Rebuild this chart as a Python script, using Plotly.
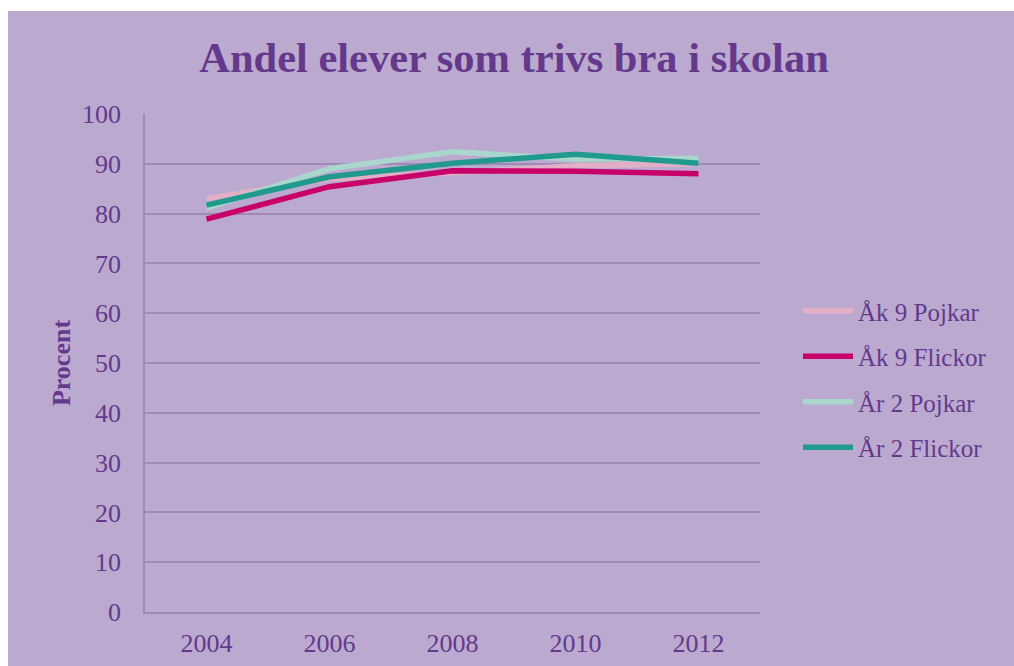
import plotly.graph_objects as go

years = ["2004", "2006", "2008", "2010", "2012"]
ak9_pojkar = [83.0, 87.0, 88.2, 89.6, 90.0]
ak9_flickor = [78.9, 85.4, 88.6, 88.5, 88.0]
ar2_pojkar = [81.1, 89.0, 92.4, 90.9, 91.1]
ar2_flickor = [81.7, 87.4, 90.1, 91.9, 90.1]

series = [
    ("Åk 9 Pojkar", ak9_pojkar, "#E2AFC6"),
    ("Åk 9 Flickor", ak9_flickor, "#C8006A"),
    ("År 2 Pojkar", ar2_pojkar, "#A9D6CD"),
    ("År 2 Flickor", ar2_flickor, "#209A8C"),
]

BG = "#BBA9D0"
TXT = "#64398C"
GRID = "#9F8AB6"
FONT = "Liberation Serif"

fig = go.Figure()
for i, (name, vals, col) in enumerate(series):
    fig.add_trace(go.Scatter(
        x=years, y=vals, name=name, mode="lines",
        line=dict(color=col, width=5.5),
        legendgroup=f"g{i}",
    ))

W, H = 1014, 666
L, R, T, B = 145, 254, 114, 54
pw, ph = W - L - R, H - T - B

def px_to_paper_x(px):
    return (px - L) / pw

def px_to_paper_y(py):
    return (H - B - py) / ph

fig.update_layout(
    width=W, height=H,
    margin=dict(l=L, r=R, t=T, b=B, pad=0, autoexpand=False),
    paper_bgcolor=BG, plot_bgcolor=BG,
    font=dict(family=FONT, color=TXT, size=25),
    title=dict(text="<b>Andel elever som trivs bra i skolan</b>",
               x=px_to_paper_x(514), xref="paper", xanchor="center",
               y=1 - 57 / H, yanchor="middle",
               font=dict(family=FONT, size=42.5, color=TXT)),
    showlegend=True,
    legend=dict(x=px_to_paper_x(798), xanchor="left", y=px_to_paper_y(379), yanchor="middle",
                font=dict(family=FONT, size=25, color=TXT), bgcolor="rgba(0,0,0,0)",
                traceorder="grouped", tracegroupgap=10, itemwidth=50),
    xaxis=dict(type="category", showgrid=False, showline=True, linecolor=GRID, linewidth=1.5,
               ticks="", tickfont=dict(family=FONT, size=26, color=TXT), ticklabelstandoff=7,
               range=[-0.5, 4.5], zeroline=False, fixedrange=True, automargin=False),
    yaxis=dict(range=[0, 100], dtick=10, showgrid=True, gridcolor=GRID, gridwidth=1.5,
               showline=True, linecolor=GRID, linewidth=1.5, ticks="", zeroline=False,
               tickfont=dict(family=FONT, size=26, color=TXT), ticklabelstandoff=17,
               title=dict(text="<b>Procent</b>", font=dict(family=FONT, size=26, color=TXT), standoff=4),
               fixedrange=True, automargin=False),
    shapes=[
        dict(type="rect", xref="paper", yref="paper", layer="above",
             x0=px_to_paper_x(-20), x1=px_to_paper_x(8), y0=px_to_paper_y(H + 20), y1=px_to_paper_y(-20),
             fillcolor="white", line=dict(width=0)),
        dict(type="rect", xref="paper", yref="paper", layer="above",
             x0=px_to_paper_x(-20), x1=px_to_paper_x(W + 20), y0=px_to_paper_y(11), y1=px_to_paper_y(-20),
             fillcolor="white", line=dict(width=0)),
    ],
)

fig.write_html(
    "out.html",
    config={"displayModeBar": False},
    post_script=(
        "document.body.style.margin='0';"
        "document.body.style.overflow='hidden';"
        "document.documentElement.style.overflow='hidden';"
        "document.body.style.background='" + BG + "';"
    ),
)
